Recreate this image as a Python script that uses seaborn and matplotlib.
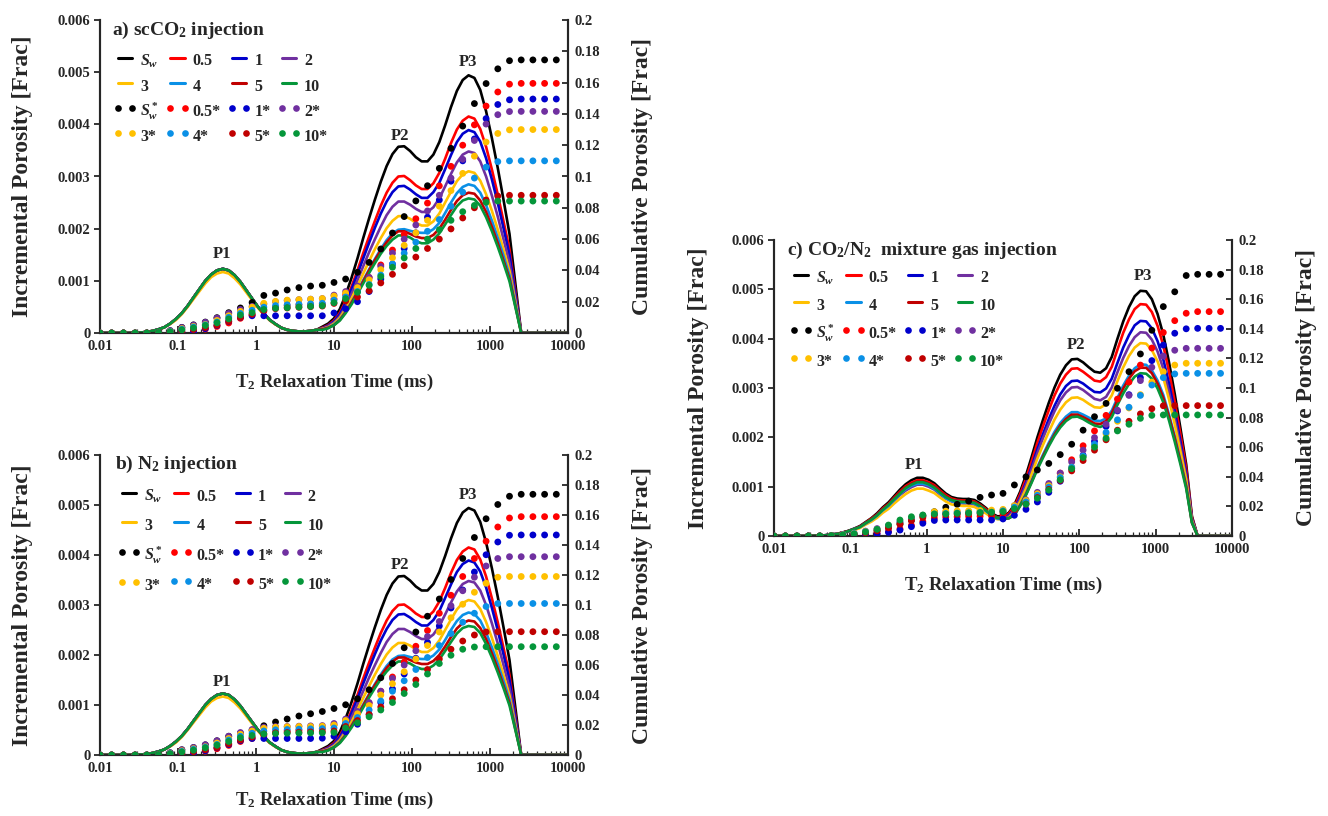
import numpy as np
import pandas as pd
import matplotlib
matplotlib.use("Agg")
import matplotlib.pyplot as plt
from matplotlib.lines import Line2D
from matplotlib.font_manager import FontProperties
from matplotlib.ticker import LogLocator, NullFormatter
import seaborn as sns

# ---------------- data ----------------
# T2 grid (ms) of the cumulative points
t2 = [0.01, 0.0141, 0.02, 0.0282, 0.0398, 0.0562, 0.0794, 0.112, 0.158, 0.224,
      0.316, 0.447, 0.631, 0.891, 1.26, 1.78, 2.51, 3.55, 5.01, 7.08,
      10, 14.1, 20, 28.2, 39.8, 56.2, 79.4, 112, 158, 224,
      316, 447, 631, 891, 1259, 1778, 2512, 3548, 5012, 7079]
# T2 values (ms) at which the incremental curves were read
t2_line = [0.01, 0.0119, 0.0141, 0.0168, 0.02, 0.0237, 0.0282, 0.0335, 0.0398, 0.0473,
           0.0562, 0.0668, 0.0794, 0.0944, 0.112, 0.133, 0.158, 0.188, 0.224, 0.266,
           0.316, 0.376, 0.447, 0.531, 0.631, 0.750, 0.891, 1.06, 1.26, 1.50,
           1.78, 2.11, 2.51, 2.99, 3.55, 4.22, 5.01, 5.96, 7.08, 8.41,
           10, 11.9, 14.1, 16.8, 20.0, 23.7, 28.2, 33.5, 39.8, 47.3,
           56.2, 66.8, 79.4, 94.4, 112, 133, 158, 188, 224, 266,
           316, 376, 447, 531, 631, 750, 891, 1059, 1259, 1496,
           1778, 2113, 2512, 2985, 3548, 4217, 5012, 5957, 7079, 8414, 10000]

series = ["Sw", "0.5", "1", "2", "3", "4", "5", "10"]
line_labels = [r"$S_w$", "0.5", "1", "2", "3", "4", "5", "10"]
dot_labels = [r"$S^*_w$", "0.5*", "1*", "2*", "3*", "4*", "5*", "10*"]
colors = ["#000000", "#FF0000", "#0000CC", "#7030A0",
          "#FFC000", "#0A90E6", "#C00000", "#05963A"]

# incremental porosity (x1e-4), panels a and b (same NMR spectra)
inc_ab_sw = [0, 0, 0, 0, 0, 0, 0.1, 0.1, 0.2, 0.4, 0.7, 1.1, 1.8, 2.7, 3.8, 5.2, 6.8, 8.4, 10.0, 11.2,
             12.0, 12.3, 12.0, 11.1, 9.8, 8.2, 6.6, 5.0, 3.7, 2.5, 1.7, 1.0, 0.6, 0.4, 0.3, 0.3, 0.4, 0.6,
             1.2, 1.8, 2.8, 4.6, 7.3, 10.6, 14.3, 18.2, 22.0, 25.6, 29.0, 32.0, 34.3, 35.7, 35.8, 34.9, 33.7, 32.9, 32.9, 34.2,
             36.6, 39.8, 43.3, 46.4, 48.5, 49.4, 48.9, 46.6, 42.5, 37.3, 31.6, 25.4, 19.0, 9.5, 0,
             0, 0, 0, 0, 0, 0, 0, 0]
inc_ab_05 = [0, 0, 0, 0, 0, 0, 0.1, 0.1, 0.2, 0.4, 0.7, 1.1, 1.8, 2.7, 3.8, 5.2, 6.8, 8.4, 10.0, 11.2,
             12.0, 12.3, 12.0, 11.1, 9.8, 8.2, 6.6, 5.0, 3.7, 2.5, 1.7, 1.0, 0.6, 0.4, 0.3, 0.3, 0.4, 0.6,
             1.0, 1.5, 2.4, 3.9, 6.1, 8.9, 12.0, 15.3, 18.5, 21.5, 24.4, 26.9, 28.8, 30.0, 30.1, 29.3, 28.3, 27.6, 27.6, 28.7,
             30.7, 33.4, 36.4, 39.0, 40.7, 41.5, 41.1, 39.1, 35.7, 31.3, 26.5, 21.3, 16.0, 8.0, 0,
             0, 0, 0, 0, 0, 0, 0, 0]
inc_ab_1 = [0, 0, 0, 0, 0, 0, 0.1, 0.1, 0.2, 0.4, 0.7, 1.1, 1.8, 2.7, 3.8, 5.2, 6.8, 8.4, 10.0, 11.2,
            12.0, 12.3, 12.0, 11.1, 9.8, 8.2, 6.6, 5.0, 3.7, 2.5, 1.7, 1.0, 0.6, 0.4, 0.3, 0.3, 0.4, 0.6,
            0.9, 1.4, 2.2, 3.6, 5.8, 8.4, 11.3, 14.3, 17.3, 20.2, 22.9, 25.2, 27.0, 28.1, 28.2, 27.5, 26.6, 25.9, 25.9, 27.0,
            28.8, 31.4, 34.1, 36.6, 38.2, 38.9, 38.5, 36.7, 33.5, 29.4, 24.9, 20.0, 15.0, 7.5, 0,
            0, 0, 0, 0, 0, 0, 0, 0]
inc_ab_2 = [0, 0, 0, 0, 0, 0, 0.1, 0.1, 0.2, 0.4, 0.7, 1.1, 1.8, 2.7, 3.8, 5.2, 6.8, 8.4, 10.0, 11.2,
            12.0, 12.3, 12.0, 11.1, 9.8, 8.2, 6.6, 5.0, 3.7, 2.5, 1.7, 1.0, 0.6, 0.4, 0.3, 0.3, 0.4, 0.6,
            0.8, 1.3, 2.0, 3.2, 5.1, 7.5, 10.1, 12.8, 15.5, 18.0, 20.4, 22.6, 24.2, 25.2, 25.2, 24.6, 23.8, 23.2, 23.2, 24.1,
            25.8, 28.1, 30.5, 32.7, 34.2, 34.8, 34.5, 32.9, 30.0, 26.3, 22.3, 17.9, 13.4, 6.7, 0,
            0, 0, 0, 0, 0, 0, 0, 0]
inc_ab_3 = [0, 0, 0, 0, 0, 0, 0.1, 0.1, 0.2, 0.4, 0.6, 1.1, 1.7, 2.5, 3.6, 5.0, 6.5, 8.0, 9.5, 10.7,
            11.4, 11.7, 11.4, 10.5, 9.3, 7.8, 6.3, 4.8, 3.5, 2.4, 1.6, 1.0, 0.6, 0.4, 0.3, 0.3, 0.4, 0.6,
            0.8, 1.1, 1.8, 2.9, 4.6, 6.6, 9.0, 11.4, 13.8, 16.1, 18.2, 20.1, 21.5, 22.4, 22.4, 21.9, 21.1, 20.6, 20.6, 21.4,
            22.9, 25.0, 27.1, 29.1, 30.4, 31.0, 30.7, 29.2, 26.6, 23.4, 19.8, 15.9, 11.9, 6.0, 0,
            0, 0, 0, 0, 0, 0, 0, 0]
inc_ab_4 = [0, 0, 0, 0, 0, 0, 0.1, 0.1, 0.2, 0.4, 0.7, 1.1, 1.8, 2.7, 3.8, 5.2, 6.8, 8.4, 10.0, 11.2,
            12.0, 12.3, 12.0, 11.1, 9.8, 8.2, 6.6, 5.0, 3.7, 2.5, 1.7, 1.0, 0.6, 0.4, 0.3, 0.3, 0.4, 0.6,
            0.7, 1.0, 1.6, 2.6, 4.1, 5.9, 8.0, 10.1, 12.2, 14.2, 16.1, 17.8, 19.1, 19.8, 19.9, 19.6, 19.3, 19.2, 19.2, 19.9,
            21.1, 23.0, 25.0, 26.8, 28.0, 28.5, 28.2, 26.9, 24.5, 21.5, 18.2, 14.7, 11.0, 5.5, 0,
            0, 0, 0, 0, 0, 0, 0, 0]
inc_ab_5 = [0, 0, 0, 0, 0, 0, 0.1, 0.1, 0.2, 0.4, 0.7, 1.1, 1.8, 2.7, 3.8, 5.2, 6.8, 8.4, 10.0, 11.2,
            12.0, 12.3, 12.0, 11.1, 9.8, 8.2, 6.6, 5.0, 3.7, 2.5, 1.7, 1.0, 0.6, 0.4, 0.3, 0.3, 0.4, 0.6,
            0.7, 1.0, 1.5, 2.5, 4.0, 5.8, 7.8, 9.9, 12.0, 14.0, 15.8, 17.4, 18.7, 19.5, 19.5, 19.0, 18.5, 18.2, 18.2, 18.8,
            20.0, 21.7, 23.6, 25.3, 26.4, 26.9, 26.7, 25.4, 23.2, 20.3, 17.2, 13.8, 10.4, 5.2, 0,
            0, 0, 0, 0, 0, 0, 0, 0]
inc_ab_10 = [0, 0, 0, 0, 0, 0, 0.1, 0.1, 0.2, 0.4, 0.7, 1.1, 1.8, 2.7, 3.8, 5.2, 6.8, 8.4, 10.0, 11.2,
             12.0, 12.3, 12.0, 11.1, 9.8, 8.2, 6.6, 5.0, 3.7, 2.5, 1.7, 1.0, 0.6, 0.4, 0.3, 0.3, 0.4, 0.6,
             0.6, 0.9, 1.5, 2.4, 3.8, 5.5, 7.5, 9.5, 11.5, 13.4, 15.2, 16.7, 17.9, 18.7, 18.7, 18.3, 17.6, 17.2, 17.2, 17.9,
             19.1, 20.8, 22.6, 24.3, 25.4, 25.8, 25.6, 24.4, 22.2, 19.5, 16.5, 13.3, 9.9, 5.0, 0,
             0, 0, 0, 0, 0, 0, 0, 0]

# incremental porosity (x1e-4), panel c
inc_c_sw = [0, 0, 0, 0, 0, 0, 0,
            0.05, 0.1, 0.15, 0.3, 0.45, 0.7, 1.05, 1.5, 2.0, 2.8, 3.6, 4.6, 5.8, 6.8, 8.1, 9.4, 10.5, 11.3, 11.8,
            11.8, 11.4, 10.7, 9.6, 8.6, 7.9, 7.6, 7.5, 7.5, 7.3, 6.6, 5.7,
            4.6, 4.0, 4.0, 4.7, 6.3, 9.0, 12.3, 16.0, 20.0, 23.6, 27.0, 30.1, 32.7, 34.6, 35.8, 35.9, 35.2, 34.2, 33.3, 33.1,
            34.0, 36.3, 40.0, 43.5, 46.4, 48.6, 49.7, 49.6, 48.0, 45.0, 40.8, 35.2, 28.8, 21.8, 14.5, 4.0,
            0, 0, 0, 0, 0, 0, 0]
inc_c_05 = [0, 0, 0, 0, 0, 0, 0,
            0.05, 0.1, 0.15, 0.3, 0.4, 0.7, 1.0, 1.4, 1.9, 2.7, 3.5, 4.4, 5.6, 6.5, 7.8, 9.0, 10.1, 10.8, 11.3,
            11.3, 10.9, 10.3, 9.2, 8.3, 7.6, 7.3, 7.2, 7.2, 7.0, 6.3, 5.5,
            4.4, 3.8, 3.8, 4.5, 6.0, 8.5, 11.6, 15.1, 18.9, 22.3, 25.5, 28.5, 30.9, 32.7, 33.9, 34.0, 33.3, 32.4, 31.5, 31.3,
            32.2, 34.3, 37.8, 41.2, 43.9, 46.0, 47.0, 46.9, 45.4, 42.6, 38.6, 33.3, 27.2, 20.6, 13.7, 3.8,
            0, 0, 0, 0, 0, 0, 0]
inc_c_1 = [0, 0, 0, 0, 0, 0, 0,
           0.05, 0.1, 0.15, 0.3, 0.4, 0.7, 1.0, 1.4, 1.9, 2.6, 3.3, 4.3, 5.4, 6.3, 7.5, 8.7, 9.8, 10.5, 11.0,
           11.0, 10.6, 10.0, 8.9, 8.0, 7.3, 7.1, 7.0, 7.0, 6.8, 6.1, 5.3,
           4.3, 3.7, 3.7, 4.2, 5.5, 7.9, 10.8, 14.0, 17.6, 20.7, 23.7, 26.4, 28.7, 30.4, 31.4, 31.5, 30.9, 30.0, 29.2, 29.1,
           29.9, 31.9, 35.1, 38.2, 40.7, 42.7, 43.6, 43.5, 42.1, 39.5, 35.8, 30.9, 25.3, 19.1, 12.7, 3.5,
           0, 0, 0, 0, 0, 0, 0]
inc_c_2 = [0, 0, 0, 0, 0, 0, 0,
           0.05, 0.1, 0.1, 0.3, 0.4, 0.6, 0.9, 1.3, 1.8, 2.5, 3.2, 4.0, 5.1, 6.0, 7.1, 8.3, 9.2, 9.9, 10.4,
           10.4, 10.0, 9.4, 8.4, 7.6, 7.0, 6.7, 6.6, 6.6, 6.4, 5.8, 5.0,
           4.1, 3.6, 3.6, 4.0, 5.3, 7.6, 10.4, 13.5, 16.8, 19.9, 22.7, 25.3, 27.5, 29.1, 30.1, 30.2, 29.6, 28.7, 27.8, 27.5,
           28.2, 30.1, 33.2, 36.1, 38.5, 40.3, 41.3, 41.2, 39.8, 37.4, 33.9, 29.2, 23.9, 18.1, 12.0, 3.3,
           0, 0, 0, 0, 0, 0, 0]
inc_c_3 = [0, 0, 0, 0, 0, 0, 0,
           0.05, 0.1, 0.1, 0.2, 0.4, 0.6, 0.9, 1.2, 1.6, 2.3, 2.9, 3.7, 4.7, 5.5, 6.6, 7.6, 8.5, 9.2, 9.6,
           9.6, 9.2, 8.7, 7.8, 7.0, 6.4, 6.2, 6.1, 6.1, 5.9, 5.3, 4.6,
           3.8, 3.4, 3.4, 3.7, 4.9, 7.0, 9.6, 12.5, 15.7, 18.5, 21.1, 23.6, 25.6, 27.1, 28.0, 28.1, 27.6, 26.8, 26.1, 26.0,
           26.7, 28.5, 31.4, 34.2, 36.5, 38.2, 39.1, 39.0, 37.7, 35.4, 32.1, 27.7, 22.6, 17.1, 11.4, 3.1,
           0, 0, 0, 0, 0, 0, 0]
inc_c_4 = [0, 0, 0, 0, 0, 0, 0,
           0.05, 0.1, 0.15, 0.3, 0.4, 0.6, 0.9, 1.4, 1.8, 2.5, 3.2, 4.1, 5.2, 6.1, 7.3, 8.5, 9.5, 10.2, 10.6,
           10.6, 10.3, 9.6, 8.6, 7.7, 7.1, 6.8, 6.8, 6.8, 6.6, 5.9, 5.1,
           4.1, 3.5, 3.4, 3.6, 4.4, 6.3, 8.6, 11.2, 14.0, 16.5, 18.9, 21.1, 22.9, 24.2, 25.1, 25.1, 24.6, 24.0, 23.4, 23.3,
           23.8, 25.4, 28.0, 30.5, 32.5, 34.0, 34.8, 34.7, 33.6, 31.5, 28.6, 24.6, 20.2, 15.3, 10.2, 2.8,
           0, 0, 0, 0, 0, 0, 0]
inc_c_5 = [0, 0, 0, 0, 0, 0, 0,
           0.05, 0.1, 0.15, 0.3, 0.4, 0.7, 1.0, 1.4, 1.9, 2.6, 3.4, 4.3, 5.5, 6.4, 7.6, 8.8, 9.9, 10.6, 11.1,
           11.1, 10.7, 10.1, 9.0, 8.1, 7.4, 7.1, 7.1, 7.1, 6.9, 6.2, 5.4,
           4.3, 3.7, 3.6, 3.6, 4.3, 6.2, 8.4, 11.0, 13.7, 16.2, 18.5, 20.6, 22.4, 23.7, 24.6, 24.6, 24.1, 23.5, 22.8, 22.7,
           23.3, 24.9, 27.5, 29.9, 31.9, 33.4, 34.1, 34.1, 33.0, 30.9, 28.0, 24.2, 19.8, 15.0, 10.0, 2.7,
           0, 0, 0, 0, 0, 0, 0]
inc_c_10 = [0, 0, 0, 0, 0, 0, 0,
            0.05, 0.1, 0.15, 0.3, 0.4, 0.6, 1.0, 1.4, 1.8, 2.6, 3.3, 4.2, 5.3, 6.3, 7.5, 8.6, 9.7, 10.4, 10.9,
            10.9, 10.5, 9.8, 8.8, 7.9, 7.3, 7.0, 6.9, 6.9, 6.7, 6.1, 5.2,
            4.2, 3.7, 3.6, 3.6, 4.2, 6.1, 8.3, 10.8, 13.5, 15.9, 18.2, 20.3, 22.0, 23.3, 24.1, 24.2, 23.7, 23.0, 22.4, 22.1,
            22.6, 24.1, 26.6, 28.9, 30.8, 32.3, 33.0, 32.9, 31.9, 29.9, 27.1, 23.4, 19.1, 14.5, 9.6, 2.7,
            0, 0, 0, 0, 0, 0, 0]

# cumulative porosity (x1e-3), panel a
cum_a_sw = [0, 0, 0, 0, 0, 0.3, 1.5, 3.6, 5.2, 7.0, 9.8, 13.0, 16.0, 19.5, 24.0, 25.5, 27.5, 29.0, 30.0, 30.5, 32.3,
            34.5, 38.8, 45.1, 53.7, 63.9, 74.4, 84.4, 94.1, 105.2, 118.0, 132.2, 146.6, 159.4, 168.8, 174.0, 174.5, 174.5, 174.5, 174.5]
cum_a_05 = [0, 0, 0, 0, 0, 0, 0.3, 0.5, 1.0, 2.5, 4.2, 6.4, 9.4, 11.5, 14.0, 16.5, 17.5, 18.0, 18.2, 18.5, 21.8,
            24.5, 29.0, 35.5, 43.5, 53.0, 63.0, 73.0, 83.0, 94.0, 106.5, 120.0, 133.0, 145.0, 154.0, 159.0, 159.5, 159.5, 159.5, 159.5]
cum_a_1 = [0, 0, 0, 0, 0, 0, 0.2, 0.4, 0.6, 2.8, 4.8, 7.4, 10.0, 11.0, 11.0, 11.0, 11.0, 11.0, 11.0, 11.0, 12.8,
           15.5, 20.0, 26.5, 34.5, 44.0, 54.0, 64.0, 74.0, 85.0, 97.0, 110.0, 124.0, 137.0, 146.0, 149.0, 149.5, 149.5, 149.5, 149.5]
cum_a_2 = [0, 0, 0, 0, 0, 0.3, 1.5, 3.5, 5.0, 6.8, 9.5, 12.5, 15.0, 17.0, 18.5, 20.0, 20.8, 21.3, 21.6, 22.0, 24.2,
           26.5, 30.0, 35.5, 42.5, 51.0, 60.0, 69.0, 78.0, 88.0, 99.0, 111.0, 123.0, 133.5, 139.5, 141.5, 141.6, 141.6, 141.6, 141.6]
cum_a_3 = [0, 0, 0, 0, 0, 0.2, 1.0, 2.8, 4.2, 5.5, 8.0, 11.0, 13.8, 16.5, 19.0, 20.2, 21.0, 21.3, 21.6, 22.0, 23.6,
           25.5, 29.0, 34.0, 40.5, 48.0, 56.0, 64.0, 72.0, 81.0, 91.0, 102.0, 113.0, 122.0, 127.5, 129.8, 130.0, 130.0, 130.0, 130.0]
cum_a_4 = [0, 0, 0, 0, 0, 0.2, 0.9, 2.4, 3.8, 5.2, 7.0, 10.0, 12.5, 14.5, 16.5, 17.5, 18.0, 18.3, 18.6, 19.0, 21.0,
           23.0, 26.5, 31.0, 37.0, 44.0, 51.0, 58.0, 65.0, 72.5, 81.0, 90.0, 99.0, 106.0, 109.5, 110.0, 110.0, 110.0, 110.0, 110.0]
cum_a_5 = [0, 0, 0, 0, 0, 0.1, 0.5, 1.2, 2.2, 3.5, 5.0, 7.5, 10.0, 12.0, 14.5, 15.5, 16.0, 16.4, 16.8, 17.2, 18.9,
           20.5, 23.0, 27.0, 32.0, 37.5, 43.0, 48.5, 54.0, 60.0, 66.5, 73.5, 80.0, 85.0, 87.5, 88.0, 88.0, 88.0, 88.0, 88.0]
cum_a_10 = [0, 0, 0, 0, 0, 0.2, 0.8, 2.0, 3.2, 4.8, 6.5, 9.0, 11.5, 13.0, 15.0, 15.8, 16.2, 16.6, 17.0, 17.5, 19.4,
            22.0, 26.0, 30.5, 36.0, 42.0, 48.0, 54.0, 60.0, 66.0, 72.0, 77.5, 81.5, 83.5, 84.3, 84.3, 84.3, 84.3, 84.3, 84.3]

# cumulative porosity (x1e-3), panel b
cum_b_sw = [0, 0, 0, 0, 0, 0.3, 1.5, 3.5, 5.0, 6.8, 9.5, 12.5, 14.5, 16.5, 19.5, 22.0, 24.0, 26.0, 27.5, 29.0, 31.0,
            33.5, 37.5, 43.5, 51.5, 61.0, 71.5, 82.0, 92.5, 104.0, 117.0, 131.0, 145.0, 157.5, 167.0, 172.5, 173.8, 173.8, 173.8, 173.8]
cum_b_05 = [0, 0, 0, 0, 0, 0, 0.3, 0.5, 1.0, 2.5, 4.2, 6.4, 9.0, 11.0, 13.0, 15.0, 16.0, 16.5, 17.0, 17.5, 20.0,
            23.0, 28.0, 34.5, 42.5, 52.0, 62.0, 72.5, 83.0, 94.5, 106.5, 119.0, 131.0, 142.5, 152.0, 158.0, 158.9, 158.9, 158.9, 158.9]
cum_b_1 = [0, 0, 0, 0, 0, 0, 0.2, 0.4, 0.6, 2.8, 4.8, 7.0, 9.5, 11.0, 11.0, 11.0, 11.0, 11.0, 11.0, 11.2, 12.5,
           15.5, 20.5, 27.0, 35.0, 44.0, 54.0, 64.5, 75.0, 86.0, 98.0, 110.0, 122.0, 133.5, 142.0, 146.5, 146.7, 146.7, 146.7, 146.7]
cum_b_2 = [0, 0, 0, 0, 0, 0.3, 1.5, 3.5, 5.0, 6.8, 9.5, 12.5, 15.0, 17.0, 18.5, 19.0, 19.0, 19.2, 19.4, 19.6, 21.0,
           24.0, 29.0, 35.0, 42.5, 51.0, 60.0, 69.5, 79.0, 89.0, 99.5, 109.5, 118.5, 126.0, 131.0, 132.2, 132.2, 132.2, 132.2, 132.2]
cum_b_3 = [0, 0, 0, 0, 0, 0.2, 1.0, 2.8, 4.2, 5.5, 8.0, 11.0, 13.8, 16.0, 17.8, 18.5, 18.8, 19.0, 19.0, 19.2, 20.0,
           23.0, 27.5, 33.0, 40.0, 47.5, 55.5, 64.0, 73.0, 82.0, 91.5, 100.5, 108.5, 114.5, 118.5, 119.0, 119.0, 119.0, 119.0, 119.0]
cum_b_4 = [0, 0, 0, 0, 0, 0.2, 0.9, 2.4, 3.8, 5.2, 7.0, 10.0, 12.5, 14.5, 16.0, 16.8, 17.0, 17.2, 17.4, 17.6, 18.0,
           21.0, 25.0, 30.0, 36.0, 42.5, 49.5, 57.0, 65.0, 73.0, 81.0, 88.5, 94.5, 99.0, 101.0, 101.0, 101.0, 101.0, 101.0, 101.0]
cum_b_5 = [0, 0, 0, 0, 0, 0.1, 0.5, 1.2, 2.2, 3.5, 5.0, 7.5, 10.0, 12.0, 14.0, 14.8, 15.0, 15.2, 15.4, 15.6, 16.0,
           19.0, 23.0, 27.0, 32.0, 37.5, 43.5, 50.0, 57.0, 64.0, 70.5, 76.0, 80.0, 82.0, 82.2, 82.2, 82.2, 82.2, 82.2, 82.2]
cum_b_10 = [0, 0, 0, 0, 0, 0.2, 0.8, 2.0, 3.2, 4.8, 6.5, 9.0, 11.5, 13.0, 14.0, 14.3, 14.5, 14.6, 14.7, 14.8, 15.0,
            18.0, 21.5, 25.5, 30.0, 35.0, 41.0, 47.0, 54.0, 61.0, 66.5, 70.5, 72.0, 72.2, 72.2, 72.2, 72.2, 72.2, 72.2, 72.2]

# cumulative porosity (x1e-3), panel c
cum_c_sw = [0, 0, 0, 0, 0, 0.2, 0.5, 1.0, 2.0, 3.5, 5.5, 8.0, 10.5, 13.5, 16.4, 19.4, 21.4, 23.6, 26.1, 27.7, 28.8,
            34.5, 40.0, 44.6, 49.0, 55.0, 62.0, 71.5, 80.6, 89.6, 99.8, 111.0, 123.0, 139.0, 155.0, 165.0, 176.0, 176.8, 176.8, 176.8]
cum_c_05 = [0, 0, 0, 0, 0, 0, 0.2, 0.4, 1.0, 1.8, 3.0, 4.8, 7.2, 9.8, 12.0, 12.8, 13.0, 13.2, 13.3, 13.5, 14.5,
            17.5, 22.0, 27.5, 34.5, 42.5, 51.5, 61.0, 71.0, 81.5, 92.5, 104.0, 115.5, 127.0, 137.5, 145.5, 150.5, 151.6, 151.6, 151.6]
cum_c_1 = [0, 0, 0, 0, 0, 0, 0, 0.3, 0.8, 1.4, 2.5, 4.0, 6.3, 8.6, 10.5, 10.8, 10.8, 10.8, 10.8, 10.8, 11.5,
           14.0, 18.0, 23.0, 29.5, 37.0, 45.5, 54.5, 64.0, 74.0, 84.5, 95.5, 107.0, 118.5, 129.0, 137.0, 140.0, 140.3, 140.3, 140.3]
cum_c_2 = [0, 0, 0, 0, 0, 0.3, 0.9, 2.0, 3.3, 5.0, 7.0, 9.5, 12.0, 14.0, 15.5, 16.0, 16.2, 16.4, 16.6, 16.8, 17.5,
           20.5, 24.5, 29.5, 35.5, 42.5, 50.0, 58.0, 66.5, 75.5, 85.0, 95.0, 105.0, 114.0, 121.5, 125.5, 126.8, 126.8, 126.8, 126.8]
cum_c_3 = [0, 0, 0, 0, 0, 0.3, 0.8, 1.8, 3.0, 4.5, 6.3, 8.6, 11.9, 13.7, 16.4, 16.8, 17.0, 17.0, 17.2, 17.5, 18.0,
           20.5, 24.0, 28.5, 34.0, 40.0, 46.5, 53.5, 61.0, 69.0, 77.5, 86.5, 95.5, 104.0, 111.0, 115.5, 116.7, 116.7, 116.7, 116.7]
cum_c_4 = [0, 0, 0, 0, 0, 0.2, 0.7, 1.6, 2.8, 4.4, 6.5, 9.0, 11.5, 13.5, 14.8, 15.2, 15.5, 15.7, 15.9, 16.1, 17.0,
           19.5, 23.0, 27.5, 33.0, 39.5, 46.5, 54.0, 62.0, 70.0, 78.5, 87.0, 95.0, 102.0, 107.0, 109.5, 109.9, 109.9, 109.9, 109.9]
cum_c_5 = [0, 0, 0, 0, 0, 0.1, 0.4, 1.0, 2.0, 3.5, 5.5, 8.0, 10.5, 12.5, 14.0, 14.5, 14.7, 14.9, 15.1, 15.3, 16.0,
           18.0, 21.5, 26.0, 31.5, 37.5, 44.0, 51.0, 58.0, 65.0, 71.5, 77.5, 82.5, 86.0, 88.0, 88.1, 88.1, 88.1, 88.1, 88.1]
cum_c_10 = [0, 0, 0, 0, 0, 0.2, 0.6, 1.4, 2.7, 4.5, 7.4, 10.8, 13.0, 14.2, 14.9, 14.9, 15.3, 15.5, 15.8, 16.0, 16.5,
            18.5, 21.5, 25.5, 31.0, 38.0, 45.5, 53.0, 60.0, 66.0, 71.0, 75.5, 79.5, 81.5, 81.8, 81.8, 81.8, 81.8, 81.8, 81.8]

inc_ab = [inc_ab_sw, inc_ab_05, inc_ab_1, inc_ab_2, inc_ab_3, inc_ab_4, inc_ab_5, inc_ab_10]
inc_c = [inc_c_sw, inc_c_05, inc_c_1, inc_c_2, inc_c_3, inc_c_4, inc_c_5, inc_c_10]
cum_a = [cum_a_sw, cum_a_05, cum_a_1, cum_a_2, cum_a_3, cum_a_4, cum_a_5, cum_a_10]
cum_b = [cum_b_sw, cum_b_05, cum_b_1, cum_b_2, cum_b_3, cum_b_4, cum_b_5, cum_b_10]
cum_c = [cum_c_sw, cum_c_05, cum_c_1, cum_c_2, cum_c_3, cum_c_4, cum_c_5, cum_c_10]

x_ticks = [0.01, 0.1, 1, 10, 100, 1000, 10000]
x_ticklabels = ["0.01", "0.1", "1", "10", "100", "1000", "10000"]
yl_ticks = [0, 0.001, 0.002, 0.003, 0.004, 0.005, 0.006]
yl_ticklabels = ["0", "0.001", "0.002", "0.003", "0.004", "0.005", "0.006"]
yr_ticks = [0, 0.02, 0.04, 0.06, 0.08, 0.1, 0.12, 0.14, 0.16, 0.18, 0.2]
yr_ticklabels = ["0", "0.02", "0.04", "0.06", "0.08", "0.1", "0.12", "0.14", "0.16", "0.18", "0.2"]

# ---------------- style ----------------
sns.set_style("ticks")
plt.rcParams["font.family"] = ["Liberation Serif", "DejaVu Serif"]
plt.rcParams["font.weight"] = "bold"
plt.rcParams["mathtext.fontset"] = "custom"
plt.rcParams["mathtext.rm"] = "Liberation Serif:bold"
plt.rcParams["mathtext.bf"] = "Liberation Serif:bold"
plt.rcParams["mathtext.it"] = "Liberation Serif:italic:bold"
plt.rcParams["axes.linewidth"] = 1.5


def long_df(x, lists, scale):
    frames = []
    for name, vals in zip(series, lists):
        frames.append(pd.DataFrame({"T2": x, "val": np.asarray(vals, dtype=float) * scale,
                                    "series": name}))
    return pd.concat(frames, ignore_index=True)


def draw_panel(rect, inc, cum, title, title_xy, leg_anchor, leg_space, peaks,
               xlab_y, ylab_l, ylab_r):
    ax = fig.add_axes(rect)
    ax.set_xscale("log")
    sns.lineplot(data=long_df(t2_line, inc, 1e-4), x="T2", y="val", hue="series",
                 hue_order=series, palette=colors, estimator=None, sort=False,
                 linewidth=1.9, legend=False, ax=ax, solid_joinstyle="round")
    ax2 = ax.twinx()
    sns.scatterplot(data=long_df(t2, cum, 1e-3), x="T2", y="val", hue="series",
                    hue_order=series, palette=colors, s=24, linewidth=0,
                    legend=False, ax=ax2, zorder=3)
    ax.set_xlim(0.01, 10000)
    ax.set_ylim(0, 0.006)
    ax2.set_ylim(0, 0.2)

    ax.set_xticks(x_ticks)
    ax.set_xticklabels(x_ticklabels)
    ax.xaxis.set_minor_locator(LogLocator(base=10, subs=np.arange(2, 10) * 1.0, numticks=20))
    ax.xaxis.set_minor_formatter(NullFormatter())
    ax.set_yticks(yl_ticks)
    ax.set_yticklabels(yl_ticklabels)
    ax2.set_yticks(yr_ticks)
    ax2.set_yticklabels(yr_ticklabels)

    ax.tick_params(axis="y", direction="out", length=4, width=1.3, labelsize=10.5, pad=3)
    ax.tick_params(axis="x", which="major", direction="in", length=5, width=1.3,
                   labelsize=10.5, pad=5)
    ax.tick_params(axis="x", which="minor", direction="in", length=3, width=0.9)
    ax2.tick_params(axis="y", direction="in", length=4, width=1.3, labelsize=10.5, pad=5)

    for a in (ax, ax2):
        a.spines["top"].set_visible(False)
        for s in ("left", "right", "bottom"):
            a.spines[s].set_linewidth(1.5)

    ax.set_xlabel(r"T$_\mathbf{2}$ Relaxation Time (ms)", fontsize=13.5, fontweight="bold")
    ax.set_ylabel("Incremental Porosity [Frac]", fontsize=17, fontweight="bold")
    ax2.set_ylabel("Cumulative Porosity [Frac]", fontsize=17, fontweight="bold")
    ax.xaxis.set_label_coords(0.5, xlab_y)
    ax.yaxis.set_label_coords(ylab_l, 0.5)
    ax2.yaxis.set_label_coords(ylab_r, 0.5)

    ax2.text(title_xy[0], title_xy[1], title, transform=ax.transAxes, ha="left",
             va="center", fontsize=14, fontweight="bold")
    for (px, py, lab) in peaks:
        ax2.text(px, py / 0.006 * 0.2, lab, ha="center", va="center",
                 fontsize=12, fontweight="bold")

    line_h = [Line2D([], [], color=c, lw=2.2) for c in colors]
    dot_h = [Line2D([], [], color=c, ls="None", marker="o", ms=4.8, mew=0) for c in colors]
    handles, labels = [], []
    for j in range(4):
        handles += [line_h[j], line_h[j + 4], dot_h[j], dot_h[j + 4]]
        labels += [line_labels[j], line_labels[j + 4], dot_labels[j], dot_labels[j + 4]]
    ax2.legend(handles, labels, loc="upper left", bbox_to_anchor=leg_anchor, ncol=4,
               frameon=False, numpoints=2, handlelength=1.5, handleheight=1.65,
               handletextpad=0.2, columnspacing=0.4, labelspacing=leg_space,
               borderpad=0, borderaxespad=0,
               prop=FontProperties(family="Liberation Serif", weight="bold", size=11.5))
    return ax, ax2


W, H = 1328, 816
fig = plt.figure(figsize=(W / 100, H / 100), dpi=100)

draw_panel([100 / W, 1 - 333 / H, 468 / W, 313 / H], inc_ab, cum_a,
           r"a) scCO$_\mathbf{2}$ injection", (0.026, 0.968), (0.028, 0.905), 0.25,
           [(0.37, 0.00152, "P1"), (70, 0.00378, "P2"), (525, 0.0052, "P3")],
           -0.125, -0.143, 1.137)
draw_panel([100 / W, 1 - 755 / H, 468 / W, 300 / H], inc_ab, cum_b,
           r"b) N$_\mathbf{2}$ injection", (0.032, 0.967), (0.036, 0.9), 0.53,
           [(0.37, 0.00147, "P1"), (70, 0.00380, "P2"), (525, 0.0052, "P3")],
           -0.115, -0.143, 1.137)
draw_panel([774 / W, 1 - 536 / H, 458 / W, 296 / H], inc_c, cum_c,
           r"c) CO$_\mathbf{2}$/N$_\mathbf{2}$  mixture gas injection", (0.028, 0.966),
           (0.033, 0.91), 0.42,
           [(0.68, 0.00144, "P1"), (90, 0.00387, "P2"), (690, 0.00527, "P3")],
           -0.13, -0.142, 1.14)

fig.savefig("out.png", dpi=100)
